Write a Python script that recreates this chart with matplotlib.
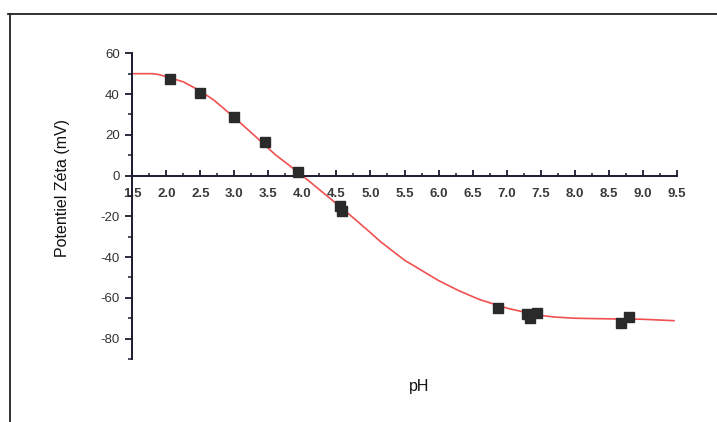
import matplotlib
matplotlib.use("Agg")
import matplotlib.pyplot as plt
from matplotlib.lines import Line2D
from matplotlib.ticker import MultipleLocator, FixedLocator

# measured data points
ph_points = [2.05, 2.5, 3.0, 3.45, 3.94, 4.55, 4.58, 6.88, 7.30, 7.34, 7.45, 8.68, 8.80]
zeta_points = [47.5, 40.5, 28.5, 16.5, 2.0, -15.0, -17.5, -65.0, -68.0, -70.0, -67.3, -72.3, -69.5]

# fitted curve
ph_curve = [1.5, 1.8, 1.9, 2.0, 2.25, 2.5, 2.7, 3.0, 3.3, 3.6, 3.97, 4.3, 4.6, 5.0, 5.15, 5.5, 6.0, 6.3, 6.6, 7.0, 7.3, 7.5, 7.7, 8.0, 8.5, 9.0, 9.46]
zeta_curve = [50.0, 50.0, 49.5, 48.5, 46.0, 41.5, 37.0, 28.5, 19.5, 10.3, 0.8, -8.3, -16.5, -28.0, -32.5, -41.5, -51.5, -56.5, -60.8, -65.0, -67.3, -68.6, -69.4, -70.0, -70.3, -70.5, -71.2]

x_ticks = [1.5, 2.0, 2.5, 3.0, 3.5, 4.0, 4.5, 5.0, 5.5, 6.0, 6.5, 7.0, 7.5, 8.0, 8.5, 9.0, 9.5]
y_ticks = [60, 40, 20, 0, -20, -40, -60, -80]

plt.rcParams['font.family'] = ['Liberation Sans', 'DejaVu Sans']

fig = plt.figure(figsize=(7.17, 4.22), dpi=100)
ax = fig.add_axes([132.3 / 717, 1 - 359 / 422, (676.7 - 132.3) / 717, (359 - 53.3) / 422])

axis_color = '#1c1a30'
ax.plot(ph_curve, zeta_curve, color='#f05050', lw=1.2, zorder=2)
ax.plot(ph_points, zeta_points, 's', color='#2a2a2a', markersize=6.5, zorder=3)

ax.set_xlim(1.5, 9.5)
ax.set_ylim(-90, 60)

ax.spines['top'].set_visible(False)
ax.spines['right'].set_visible(False)
ax.spines['bottom'].set_position(('data', 0))
for s in ('left', 'bottom'):
    ax.spines[s].set_color(axis_color)
    ax.spines[s].set_linewidth(1.4)

ax.xaxis.set_major_locator(FixedLocator(x_ticks))
ax.set_xticklabels([f"{v:.1f}" for v in x_ticks], fontweight='bold')
ax.xaxis.set_minor_locator(MultipleLocator(0.25))
ax.yaxis.set_major_locator(FixedLocator(y_ticks))
ax.set_yticklabels([str(v) for v in y_ticks])
ax.yaxis.set_minor_locator(MultipleLocator(10))

ax.tick_params(axis='x', which='major', direction='in', length=4, width=1.3,
               color=axis_color, pad=9, labelsize=9.5, labelcolor='#3a3a3a')
ax.tick_params(axis='x', which='minor', direction='in', length=2.5, width=1.1, color=axis_color)
ax.tick_params(axis='y', which='major', direction='out', length=5, width=1.3,
               color=axis_color, pad=4, labelsize=9.5, labelcolor='#333333')
ax.tick_params(axis='y', which='minor', direction='out', length=3, width=1.1, color=axis_color)

fig.text(62 / 717, 1 - 188 / 422, 'Potentiel Zéta (mV)', rotation=90,
         ha='center', va='center', fontsize=11.5, color='#111111')
fig.text(419 / 717, 1 - 387 / 422, 'pH', ha='center', va='center',
         fontsize=11.5, color='#111111')

# outer frame (top and left edges)
fig.add_artist(Line2D([8 / 717, 1.0], [1 - 14 / 422, 1 - 14 / 422],
                      transform=fig.transFigure, color='#222222', lw=1.3))
fig.add_artist(Line2D([9.5 / 717, 9.5 / 717], [0.0, 1 - 14 / 422],
                      transform=fig.transFigure, color='#222222', lw=1.3))

fig.savefig('out.png', dpi=100)
